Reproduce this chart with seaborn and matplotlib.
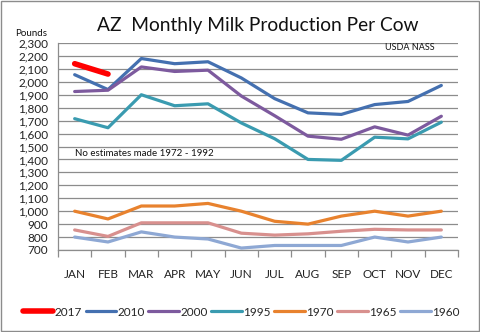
import matplotlib
matplotlib.use("Agg")
import matplotlib.pyplot as plt
import seaborn as sns
import pandas as pd
import numpy as np
from matplotlib.ticker import FuncFormatter, FixedLocator
from matplotlib.lines import Line2D

months = ["JAN", "FEB", "MAR", "APR", "MAY", "JUN", "JUL", "AUG", "SEP", "OCT", "NOV", "DEC"]
y2017 = [2140, 2060]
y2010 = [2055, 1940, 2180, 2140, 2155, 2030, 1870, 1760, 1748, 1824, 1848, 1972]
y2000 = [1925, 1935, 2115, 2080, 2090, 1890, 1738, 1580, 1556, 1652, 1588, 1734]
y1995 = [1715, 1645, 1900, 1815, 1830, 1682, 1560, 1400, 1393, 1572, 1559, 1688]
y1970 = [1000, 940, 1040, 1040, 1060, 1000, 922, 900, 962, 1000, 962, 1000]
y1965 = [855, 805, 910, 910, 910, 830, 815, 825, 845, 860, 855, 855]
y1960 = [800, 762, 840, 800, 785, 715, 735, 735, 735, 800, 762, 800]

series = {"2017": y2017, "2010": y2010, "2000": y2000, "1995": y1995,
          "1970": y1970, "1965": y1965, "1960": y1960}
colors = {"2017": "#FF0000", "2010": "#4470B0", "2000": "#7D5A9E", "1995": "#3A9BB0",
          "1970": "#E8822E", "1965": "#D8908E", "1960": "#8EA8D4"}

rows = []
for name, vals in series.items():
    for i, v in enumerate(vals):
        rows.append({"year": name, "m": i, "value": v})
df = pd.DataFrame(rows)

sns.set_theme(style="white")
plt.rcParams['font.family'] = ['Lato', 'DejaVu Sans']

fig = plt.figure(figsize=(4.8, 3.32), dpi=100)
ax = fig.add_axes([58/480, 1 - 250/332, 400/480, 207/332])

sns.lineplot(data=df, x="m", y="value", hue="year", hue_order=list(series.keys()),
             palette=colors, linewidth=2.3, ax=ax, legend=False, sort=False)
for line, name in zip(ax.get_lines(), series.keys()):
    if name == "2017":
        line.set_linewidth(4.0)

ax.set_xlim(-0.5, 11.5)
ax.set_ylim(700, 2300)
ax.set_yticks(np.arange(700, 2301, 100))
ax.yaxis.set_major_formatter(FuncFormatter(lambda v, p: f"{int(v):,}"))
ax.yaxis.grid(True, color="#8C8C8C", linewidth=0.9)
ax.set_xticks(range(12))
ax.set_xticklabels(months)
ax.xaxis.set_minor_locator(FixedLocator(np.arange(-0.5, 12, 1)))
ax.tick_params(axis="x", which="major", length=0, pad=14, labelsize=8.5, colors="#222222")
ax.tick_params(axis="x", which="minor", length=5, width=0.9, color="#8C8C8C", bottom=True, direction="out")
ax.tick_params(axis="y", length=0, pad=7, labelsize=8.5, colors="#222222")
for s in ["top", "right"]:
    ax.spines[s].set_visible(False)
for s in ["left", "bottom"]:
    ax.spines[s].set_color("#8C8C8C")
    ax.spines[s].set_linewidth(0.9)
ax.set_xlabel("")
ax.set_ylabel("")

fig.text(258/480, 1 - 25/332, "AZ  Monthly Milk Production Per Cow", ha="center", va="center",
         fontsize=13.8, color="#111111")
fig.text(15/480, 1 - 33/332, "Pounds", ha="left", va="center", fontsize=7, color="#111111")
fig.text(385/480, 1 - 47/332, "USDA NASS", ha="left", va="center", fontsize=6.5, color="#111111")
fig.text(75/480, 1 - 153/332, "No estimates made 1972 - 1992", ha="left", va="center",
         fontsize=7, color="#111111")

handles = [Line2D([0], [0], color=colors[k], linewidth=(4.0 if k == "2017" else 2.3)) for k in series]
fig.legend(handles, list(series.keys()), loc="center", bbox_to_anchor=(241/480, 1 - 312/332),
           ncol=7, frameon=False, fontsize=8.5, handlelength=2.6, handletextpad=0.1,
           columnspacing=0.3, borderaxespad=0)

border = plt.Rectangle((0.002, 0.003), 0.995, 0.994, transform=fig.transFigure, fill=False,
                       edgecolor="#8C8C8C", linewidth=1.0)
fig.patches.append(border)

fig.savefig("out.png", dpi=100)
